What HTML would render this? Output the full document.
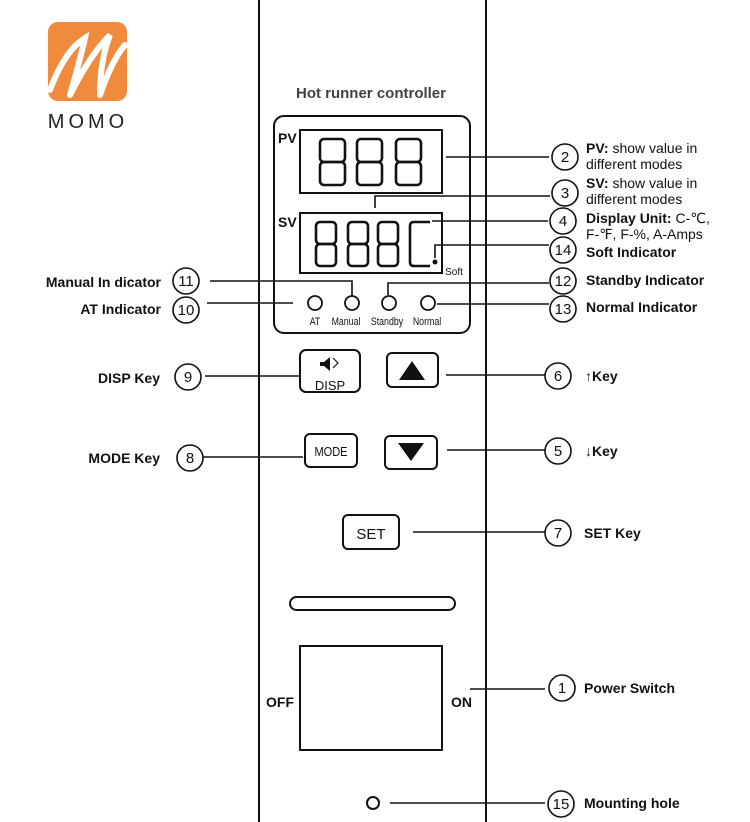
<!DOCTYPE html>
<html><head><meta charset="utf-8"><style>
body{margin:0;background:#fff}
svg{display:block}
text{font-family:"Liberation Sans","DejaVu Sans",sans-serif;fill:#111}
.b{font-weight:bold;font-size:14px}
.n{font-size:14px}
.c{font-size:15px;text-anchor:middle}
.s{font-size:11px;text-anchor:middle}
</style></head><body>
<svg width="750" height="822" viewBox="0 0 750 822" xmlns="http://www.w3.org/2000/svg">
<rect width="750" height="822" fill="#fff"/>
<rect x="48" y="22" width="79" height="79" rx="10" fill="#f08a3c"/>
<path d="M50 90 Q65 50 85 38 Q80 60 70 95 M70 95 Q90 55 110 35 Q100 60 100 95 M100 95 Q112 60 125 45" stroke="#fff" stroke-width="6" fill="none" stroke-linecap="round"/>
<text x="88" y="128" style="font-size:20px;letter-spacing:4px;text-anchor:middle;fill:#222">MOMO</text>
<line x1="259" y1="0" x2="259" y2="822" stroke="#111" stroke-width="2"/>
<line x1="486" y1="0" x2="486" y2="822" stroke="#111" stroke-width="2"/>
<text x="371" y="98" style="font-size:15px;text-anchor:middle;fill:#222;font-weight:bold;opacity:0.85">Hot runner controller</text>
<g fill="none" stroke="#111" stroke-width="2">
<rect x="274" y="116" width="196" height="217" rx="10"/>
<rect x="300" y="130" width="142" height="63"/>
<rect x="300" y="213" width="142" height="60"/>
</g>
<g fill="none" stroke="#111" stroke-width="2.6">
<rect x="320" y="139" width="25" height="23" rx="4"/><rect x="320" y="162" width="25" height="23" rx="4"/>
<rect x="357" y="139" width="25" height="23" rx="4"/><rect x="357" y="162" width="25" height="23" rx="4"/>
<rect x="396" y="139" width="25" height="23" rx="4"/><rect x="396" y="162" width="25" height="23" rx="4"/>
<rect x="316" y="222" width="20" height="22" rx="4"/><rect x="316" y="244" width="20" height="22" rx="4"/>
<rect x="348" y="222" width="20" height="22" rx="4"/><rect x="348" y="244" width="20" height="22" rx="4"/>
<rect x="378" y="222" width="20" height="22" rx="4"/><rect x="378" y="244" width="20" height="22" rx="4"/>
<path d="M430 222 H414 Q410 222 410 226 V262 Q410 266 414 266 H430"/>
</g>
<circle cx="435" cy="262" r="2.5" fill="#111"/>
<text x="278" y="143" style="font-size:14px;font-weight:bold">PV</text>
<text x="278" y="227" style="font-size:14px;font-weight:bold">SV</text>
<text x="454" y="275" class="s" style="font-size:10px">Soft</text>
<g fill="none" stroke="#111" stroke-width="1.8">
<circle cx="315" cy="303" r="7"/><circle cx="352" cy="303" r="7"/><circle cx="389" cy="303" r="7"/><circle cx="428" cy="303" r="7"/>
</g>
<g transform="translate(0,325)">
<text transform="translate(315,0) scale(0.8,1)" class="s">AT</text>
<text transform="translate(346,0) scale(0.8,1)" class="s">Manual</text>
<text transform="translate(387,0) scale(0.8,1)" class="s">Standby</text>
<text transform="translate(427,0) scale(0.8,1)" class="s">Normal</text>
</g>
<g fill="none" stroke="#111" stroke-width="2">
<rect x="300" y="350" width="60" height="42" rx="6"/>
<rect x="387" y="353" width="51" height="34" rx="5"/>
<rect x="305" y="434" width="52" height="33" rx="5"/>
<rect x="385" y="436" width="52" height="33" rx="5"/>
<rect x="343" y="515" width="56" height="34" rx="5"/>
<rect x="290" y="597" width="165" height="13" rx="6.5"/>
<rect x="300" y="646" width="142" height="104"/>
<circle cx="373" cy="803" r="6"/>
</g>
<path d="M320 362 h4 l6 -5 v14 l-6 -5 h-4z" fill="#111"/>
<path d="M333 358 l5 5 -5 5" fill="none" stroke="#111" stroke-width="1.2"/>
<text x="330" y="390" style="font-size:13px;text-anchor:middle">DISP</text>
<path d="M399 380 L412 361 L425 380Z" fill="#111"/>
<path d="M398 443 L424 443 L411 461Z" fill="#111"/>
<text transform="translate(331,456) scale(0.85,1)" style="font-size:13px;text-anchor:middle">MODE</text>
<text x="371" y="539" style="font-size:15px;text-anchor:middle">SET</text>
<text x="266" y="707" class="b">OFF</text>
<text x="451" y="707" class="b">ON</text>
<g fill="none" stroke="#111" stroke-width="1.6">
<path d="M446 157 H549"/>
<path d="M375 208 V196 H550"/>
<path d="M432 221 H548"/>
<path d="M435 258 V245 H549"/>
<path d="M388 295 V283 H549"/>
<path d="M437 304 H549"/>
<path d="M210 281 H352 V296"/>
<path d="M207 303 H293"/>
<path d="M205 376 H300"/>
<path d="M446 375 H545"/>
<path d="M203 457 H303"/>
<path d="M447 450 H545"/>
<path d="M413 532 H545"/>
<path d="M470 689 H545"/>
<path d="M390 803 H545"/>
</g>
<g fill="#fff" stroke="#111" stroke-width="1.6">
<circle cx="565" cy="157" r="13"/><circle cx="565" cy="193" r="13"/><circle cx="563" cy="221" r="13"/>
<circle cx="563" cy="250" r="13"/><circle cx="563" cy="281" r="13"/><circle cx="563" cy="309" r="13"/>
<circle cx="186" cy="281" r="13"/><circle cx="186" cy="310" r="13"/><circle cx="188" cy="377" r="13"/>
<circle cx="190" cy="458" r="13"/><circle cx="558" cy="376" r="13"/><circle cx="558" cy="451" r="13"/>
<circle cx="558" cy="533" r="13"/><circle cx="562" cy="688" r="13"/><circle cx="561" cy="804" r="13"/>
</g>
<text x="565" y="162" class="c">2</text><text x="565" y="198" class="c">3</text><text x="563" y="226" class="c">4</text>
<text x="563" y="255" class="c">14</text><text x="563" y="286" class="c">12</text><text x="563" y="314" class="c">13</text>
<text x="186" y="286" class="c">11</text><text x="186" y="315" class="c">10</text><text x="188" y="382" class="c">9</text>
<text x="190" y="463" class="c">8</text><text x="558" y="381" class="c">6</text><text x="558" y="456" class="c">5</text>
<text x="558" y="538" class="c">7</text><text x="562" y="693" class="c">1</text><text x="561" y="809" class="c">15</text>
<text x="586" y="153" class="n"><tspan font-weight="bold">PV:</tspan> show value in</text>
<text x="586" y="169" class="n">different modes</text>
<text x="586" y="188" class="n"><tspan font-weight="bold">SV:</tspan> show value in</text>
<text x="586" y="204" class="n">different modes</text>
<text x="586" y="223" class="n"><tspan font-weight="bold">Display Unit:</tspan> C-℃,</text>
<text x="586" y="239" class="n">F-℉, F-%, A-Amps</text>
<text x="586" y="257" class="b">Soft Indicator</text>
<text x="586" y="285" class="b">Standby Indicator</text>
<text x="586" y="312" class="b">Normal Indicator</text>
<text x="585" y="381" class="b">↑Key</text>
<text x="585" y="456" class="b">↓Key</text>
<text x="584" y="538" class="b">SET Key</text>
<text x="584" y="693" class="b">Power Switch</text>
<text x="584" y="808" class="b">Mounting hole</text>
<text x="161" y="287" class="b" text-anchor="end">Manual In dicator</text>
<text x="161" y="314" class="b" text-anchor="end">AT Indicator</text>
<text x="160" y="383" class="b" text-anchor="end">DISP Key</text>
<text x="160" y="463" class="b" text-anchor="end">MODE Key</text>
</svg>
</body></html>
